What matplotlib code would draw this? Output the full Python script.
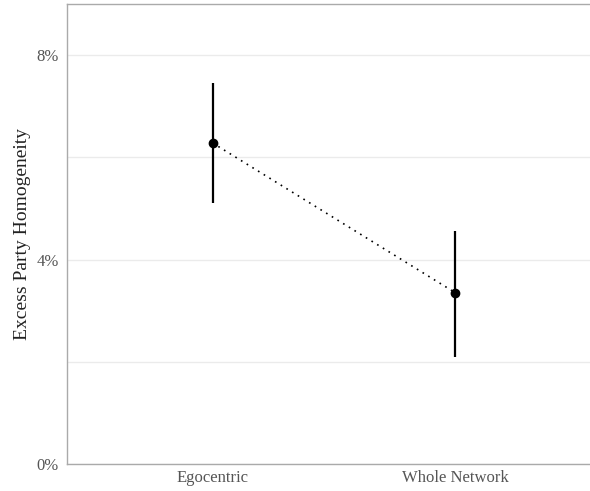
import numpy as np
import matplotlib
matplotlib.use("Agg")
import matplotlib.pyplot as plt
from matplotlib.ticker import FixedLocator, FuncFormatter

# data
categories = ["Egocentric", "Whole Network"]
estimate = [6.28, 3.35]
ci_low = [5.11, 2.09]
ci_high = [7.45, 4.56]

plt.rcParams["font.family"] = ["Liberation Serif", "DejaVu Serif"]

fig = plt.figure(figsize=(5.9, 4.91), dpi=100)
ax = fig.add_axes([0.1136, 0.055, 0.8864, 0.937])

x = np.arange(len(categories))

# grid
ax.yaxis.set_major_locator(FixedLocator([0, 4, 8]))
ax.yaxis.set_minor_locator(FixedLocator([2, 6]))
ax.grid(axis="y", which="both", color="#ebebeb", linewidth=1.0)
ax.set_axisbelow(True)

ax.plot(x, estimate, linestyle=(0, (1, 3)), color="black", linewidth=1.2)
ax.vlines(x, ci_low, ci_high, color="black", linewidth=1.6)
ax.plot(x, estimate, "o", color="black", markersize=6)

ax.set_xlim(-0.6, 1.555)
ax.set_ylim(0, 9)
ax.set_xticks(x)
ax.set_xticklabels(categories)
ax.yaxis.set_major_formatter(FuncFormatter(lambda v, p: f"{v:.0f}%"))

ax.tick_params(axis="both", which="both", length=0, colors="#555555", labelsize=12)
ax.tick_params(axis="x", pad=4)
ax.tick_params(axis="y", pad=6)

for s in ["left", "top", "bottom"]:
    ax.spines[s].set_color("#aaaaaa")
    ax.spines[s].set_linewidth(1.0)
ax.spines["right"].set_visible(False)

ax.set_ylabel("Excess Party Homogeneity", fontsize=14, color="#222222", labelpad=4)

fig.savefig("out.png", dpi=100)
